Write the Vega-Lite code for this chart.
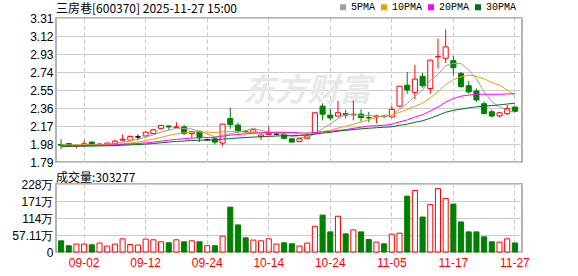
{
  "$schema": "https://vega.github.io/schema/vega-lite/v6.json",
  "padding": {"left": 11, "top": 2, "right": 5, "bottom": 5},
  "bounds": "flush",
  "spacing": 22,
  "config": {
    "view": {"stroke": "#9a9a9a", "strokeWidth": 1.5},
    "axis": {"labelFont": "Liberation Sans", "labelFontSize": 12, "labelColor": "#000000", "ticks": false, "domain": false, "title": null, "gridColor": "#cccccc", "gridWidth": 1},
    "axisY": {"labelOverlap": false, "tickCount": 20},
    "title": {"font": "Noto Sans CJK SC", "fontSize": 12, "fontWeight": "normal", "anchor": "start", "frame": "group", "color": "#000000"}
  },
  "datasets": {
    "k": [
      {"d":"08-28","o":1.975,"h":2.03,"l":1.925,"c":1.965,"v":37.6,"5PMA":1.969,"10PMA":1.970,"20PMA":1.961,"30PMA":1.954},
      {"d":"08-29","o":1.985,"h":1.99,"l":1.95,"c":1.96,"v":21,"5PMA":1.967,"10PMA":1.969,"20PMA":1.961,"30PMA":1.955},
      {"d":"09-01","o":1.96,"h":1.975,"l":1.935,"c":1.965,"v":26.6,"5PMA":1.966,"10PMA":1.968,"20PMA":1.962,"30PMA":1.956},
      {"d":"09-02","o":1.966,"h":2.02,"l":1.948,"c":1.983,"v":26.6,"5PMA":1.969,"10PMA":1.969,"20PMA":1.964,"30PMA":1.957},
      {"d":"09-03","o":2.0,"h":2.01,"l":1.96,"c":1.975,"v":24.3,"5PMA":1.970,"10PMA":1.970,"20PMA":1.965,"30PMA":1.958},
      {"d":"09-04","o":1.975,"h":1.985,"l":1.97,"c":1.98,"v":30,"5PMA":1.973,"10PMA":1.971,"20PMA":1.966,"30PMA":1.960},
      {"d":"09-05","o":1.975,"h":1.995,"l":1.97,"c":1.99,"v":20,"5PMA":1.979,"10PMA":1.973,"20PMA":1.968,"30PMA":1.961},
      {"d":"09-08","o":1.985,"h":2.025,"l":1.98,"c":2.01,"v":26.6,"5PMA":1.988,"10PMA":1.977,"20PMA":1.971,"30PMA":1.964},
      {"d":"09-09","o":2.02,"h":2.08,"l":2.015,"c":2.03,"v":44.3,"5PMA":1.997,"10PMA":1.983,"20PMA":1.975,"30PMA":1.967},
      {"d":"09-10","o":2.02,"h":2.07,"l":2.01,"c":2.06,"v":25.3,"5PMA":2.014,"10PMA":1.992,"20PMA":1.981,"30PMA":1.971},
      {"d":"09-11","o":2.055,"h":2.08,"l":2.02,"c":2.055,"v":23.3,"5PMA":2.029,"10PMA":2.001,"20PMA":1.985,"30PMA":1.974},
      {"d":"09-12","o":2.065,"h":2.11,"l":2.06,"c":2.105,"v":43.3,"5PMA":2.052,"10PMA":2.015,"20PMA":1.992,"30PMA":1.979},
      {"d":"09-15","o":2.09,"h":2.14,"l":2.085,"c":2.13,"v":41,"5PMA":2.076,"10PMA":2.032,"20PMA":2.000,"30PMA":1.985},
      {"d":"09-16","o":2.145,"h":2.18,"l":2.14,"c":2.175,"v":34.3,"5PMA":2.105,"10PMA":2.051,"20PMA":2.010,"30PMA":1.993},
      {"d":"09-17","o":2.17,"h":2.175,"l":2.13,"c":2.16,"v":31,"5PMA":2.125,"10PMA":2.070,"20PMA":2.020,"30PMA":2.000},
      {"d":"09-18","o":2.155,"h":2.21,"l":2.15,"c":2.16,"v":41,"5PMA":2.146,"10PMA":2.088,"20PMA":2.029,"30PMA":2.007},
      {"d":"09-19","o":2.16,"h":2.18,"l":2.075,"c":2.09,"v":34.3,"5PMA":2.143,"10PMA":2.098,"20PMA":2.035,"30PMA":2.011},
      {"d":"09-22","o":2.09,"h":2.12,"l":2.045,"c":2.11,"v":37.6,"5PMA":2.139,"10PMA":2.108,"20PMA":2.042,"30PMA":2.017},
      {"d":"09-23","o":2.115,"h":2.12,"l":2.0,"c":2.045,"v":34.3,"5PMA":2.113,"10PMA":2.109,"20PMA":2.046,"30PMA":2.020},
      {"d":"09-24","o":2.025,"h":2.035,"l":2.015,"c":2.025,"v":21,"5PMA":2.086,"10PMA":2.106,"20PMA":2.049,"30PMA":2.022},
      {"d":"09-25","o":2.035,"h":2.05,"l":1.975,"c":2.0,"v":21,"5PMA":2.054,"10PMA":2.100,"20PMA":2.050,"30PMA":2.023},
      {"d":"09-26","o":1.99,"h":2.195,"l":1.96,"c":2.19,"v":53.3,"5PMA":2.074,"10PMA":2.109,"20PMA":2.062,"30PMA":2.031},
      {"d":"09-29","o":2.25,"h":2.36,"l":2.14,"c":2.185,"v":150.8,"5PMA":2.089,"10PMA":2.114,"20PMA":2.073,"30PMA":2.038},
      {"d":"09-30","o":2.18,"h":2.205,"l":2.09,"c":2.12,"v":91,"5PMA":2.104,"10PMA":2.109,"20PMA":2.080,"30PMA":2.043},
      {"d":"10-09","o":2.115,"h":2.13,"l":2.095,"c":2.11,"v":47.6,"5PMA":2.121,"10PMA":2.104,"20PMA":2.087,"30PMA":2.048},
      {"d":"10-10","o":2.10,"h":2.135,"l":2.095,"c":2.13,"v":40,"5PMA":2.147,"10PMA":2.101,"20PMA":2.094,"30PMA":2.053},
      {"d":"10-13","o":2.06,"h":2.08,"l":2.02,"c":2.075,"v":37.6,"5PMA":2.124,"10PMA":2.099,"20PMA":2.098,"30PMA":2.056},
      {"d":"10-14","o":2.08,"h":2.165,"l":2.075,"c":2.09,"v":44.3,"5PMA":2.105,"10PMA":2.097,"20PMA":2.102,"30PMA":2.060},
      {"d":"10-15","o":2.083,"h":2.10,"l":2.07,"c":2.083,"v":26.6,"5PMA":2.098,"10PMA":2.101,"20PMA":2.105,"30PMA":2.064},
      {"d":"10-16","o":2.085,"h":2.10,"l":2.035,"c":2.04,"v":31,"5PMA":2.084,"10PMA":2.102,"20PMA":2.104,"30PMA":2.067},
      {"d":"10-17","o":2.035,"h":2.04,"l":1.995,"c":2.0,"v":27.6,"5PMA":2.058,"10PMA":2.102,"20PMA":2.101,"30PMA":2.068},
      {"d":"10-20","o":2.005,"h":2.04,"l":2.0,"c":2.035,"v":20,"5PMA":2.050,"10PMA":2.087,"20PMA":2.098,"30PMA":2.070},
      {"d":"10-21","o":2.04,"h":2.10,"l":2.035,"c":2.065,"v":30,"5PMA":2.045,"10PMA":2.075,"20PMA":2.094,"30PMA":2.074},
      {"d":"10-22","o":2.095,"h":2.31,"l":2.09,"c":2.31,"v":86.6,"5PMA":2.090,"10PMA":2.094,"20PMA":2.101,"30PMA":2.084},
      {"d":"10-23","o":2.38,"h":2.41,"l":2.23,"c":2.295,"v":124,"5PMA":2.141,"10PMA":2.112,"20PMA":2.108,"30PMA":2.095},
      {"d":"10-24","o":2.285,"h":2.355,"l":2.23,"c":2.255,"v":67.6,"5PMA":2.192,"10PMA":2.125,"20PMA":2.113,"30PMA":2.104},
      {"d":"10-27","o":2.275,"h":2.435,"l":2.27,"c":2.31,"v":120,"5PMA":2.247,"10PMA":2.148,"20PMA":2.124,"30PMA":2.115},
      {"d":"10-28","o":2.30,"h":2.34,"l":2.25,"c":2.285,"v":61,"5PMA":2.291,"10PMA":2.168,"20PMA":2.132,"30PMA":2.124},
      {"d":"10-29","o":2.29,"h":2.44,"l":2.23,"c":2.295,"v":74.3,"5PMA":2.288,"10PMA":2.189,"20PMA":2.145,"30PMA":2.133},
      {"d":"10-30","o":2.295,"h":2.345,"l":2.215,"c":2.26,"v":67.6,"5PMA":2.281,"10PMA":2.211,"20PMA":2.157,"30PMA":2.140},
      {"d":"10-31","o":2.26,"h":2.32,"l":2.21,"c":2.255,"v":42,"5PMA":2.281,"10PMA":2.237,"20PMA":2.169,"30PMA":2.146},
      {"d":"11-03","o":2.265,"h":2.29,"l":2.20,"c":2.275,"v":33.3,"5PMA":2.274,"10PMA":2.261,"20PMA":2.174,"30PMA":2.152},
      {"d":"11-04","o":2.275,"h":2.29,"l":2.25,"c":2.27,"v":27.6,"5PMA":2.271,"10PMA":2.281,"20PMA":2.178,"30PMA":2.157},
      {"d":"11-05","o":2.265,"h":2.38,"l":2.26,"c":2.345,"v":60,"5PMA":2.281,"10PMA":2.285,"20PMA":2.189,"30PMA":2.162},
      {"d":"11-06","o":2.38,"h":2.59,"l":2.37,"c":2.59,"v":63.3,"5PMA":2.347,"10PMA":2.314,"20PMA":2.213,"30PMA":2.177},
      {"d":"11-07","o":2.60,"h":2.74,"l":2.51,"c":2.55,"v":187.5,"5PMA":2.406,"10PMA":2.344,"20PMA":2.234,"30PMA":2.190},
      {"d":"11-10","o":2.525,"h":2.815,"l":2.455,"c":2.665,"v":206.5,"5PMA":2.484,"10PMA":2.379,"20PMA":2.264,"30PMA":2.209},
      {"d":"11-11","o":2.695,"h":2.73,"l":2.575,"c":2.595,"v":117.5,"5PMA":2.549,"10PMA":2.410,"20PMA":2.289,"30PMA":2.225},
      {"d":"11-12","o":2.565,"h":2.87,"l":2.51,"c":2.865,"v":160,"5PMA":2.653,"10PMA":2.467,"20PMA":2.328,"30PMA":2.252},
      {"d":"11-13","o":2.90,"h":3.094,"l":2.777,"c":2.905,"v":213,"5PMA":2.716,"10PMA":2.532,"20PMA":2.371,"30PMA":2.282},
      {"d":"11-14","o":2.885,"h":3.19,"l":2.835,"c":3.005,"v":180,"5PMA":2.807,"10PMA":2.607,"20PMA":2.422,"30PMA":2.315},
      {"d":"11-17","o":2.86,"h":2.91,"l":2.705,"c":2.785,"v":161,"5PMA":2.831,"10PMA":2.658,"20PMA":2.459,"30PMA":2.335},
      {"d":"11-18","o":2.725,"h":2.74,"l":2.575,"c":2.585,"v":101,"5PMA":2.829,"10PMA":2.689,"20PMA":2.485,"30PMA":2.348},
      {"d":"11-19","o":2.595,"h":2.645,"l":2.51,"c":2.53,"v":67.6,"5PMA":2.762,"10PMA":2.708,"20PMA":2.496,"30PMA":2.362},
      {"d":"11-20","o":2.54,"h":2.565,"l":2.425,"c":2.445,"v":67.6,"5PMA":2.670,"10PMA":2.693,"20PMA":2.504,"30PMA":2.373},
      {"d":"11-21","o":2.405,"h":2.43,"l":2.295,"c":2.30,"v":51,"5PMA":2.529,"10PMA":2.668,"20PMA":2.506,"30PMA":2.379},
      {"d":"11-24","o":2.32,"h":2.34,"l":2.26,"c":2.275,"v":34.3,"5PMA":2.427,"10PMA":2.629,"20PMA":2.504,"30PMA":2.385},
      {"d":"11-25","o":2.277,"h":2.32,"l":2.26,"c":2.31,"v":33.3,"5PMA":2.372,"10PMA":2.601,"20PMA":2.505,"30PMA":2.393},
      {"d":"11-26","o":2.30,"h":2.39,"l":2.285,"c":2.355,"v":44.3,"5PMA":2.337,"10PMA":2.550,"20PMA":2.508,"30PMA":2.402},
      {"d":"11-27","o":2.37,"h":2.375,"l":2.32,"c":2.325,"v":30.33,"5PMA":2.313,"10PMA":2.492,"20PMA":2.512,"30PMA":2.411}
    ]
  },
  "vconcat": [
    {
      "width": 466,
      "height": 144,
      "title": {"text": "三房巷[600370] 2025-11-27 15:00", "offset": -4},
      "data": {"name": "k"},
      "encoding": {
        "x": {
          "field": "d", "type": "ordinal",
          "scale": {"paddingInner": 0, "paddingOuter": 0.29, "align": 0.27},
          "axis": {"values": ["09-02","09-12","09-24","10-14","10-24","11-05","11-17","11-27"], "labels": false, "grid": true, "gridDash": [4,3], "gridColor": "#c8c8c8", "bandPosition": 0.5}
        }
      },
      "layer": [
        {
          "data": {"values": [{}]},
          "mark": {"type": "text", "text": "东方财富", "font": "Noto Sans CJK SC", "fontSize": 32, "fontWeight": "bold", "fontStyle": "italic", "color": "#e8e8e8", "dy": 1},
          "encoding": {"x": {"datum": "10-21"}, "y": {"datum": 2.55}}
        },
        {
          "mark": {"type": "rule", "strokeWidth": 1},
          "encoding": {
            "y": {
              "field": "l", "type": "quantitative",
              "scale": {"domain": [1.79, 3.31], "nice": false, "zero": false},
              "axis": {"values": [1.79,1.98,2.17,2.36,2.55,2.74,2.93,3.12,3.31], "tickCount": 20, "format": ".2f", "labelPadding": 3, "labelOverlap": false, "grid": true}
            },
            "y2": {"field": "h"},
            "stroke": {"condition": [{"test": "datum.c > datum.o", "value": "#ff0000"}, {"test": "datum.c == datum.o", "value": "#000000"}], "value": "#008000"}
          }
        },
        {
          "mark": {"type": "bar", "width": {"band": 0.66}, "strokeWidth": 1},
          "encoding": {
            "y": {"field": "o", "type": "quantitative"},
            "y2": {"field": "c"},
            "fill": {"condition": {"test": "datum.c >= datum.o", "value": "#ffffff"}, "value": "#008000"},
            "stroke": {"condition": [{"test": "datum.c > datum.o", "value": "#ff0000"}, {"test": "datum.c == datum.o", "value": "#000000"}], "value": "#008000"}
          }
        },
        {
          "transform": [{"fold": ["5PMA", "10PMA", "20PMA", "30PMA"], "as": ["key", "val"]}],
          "mark": {"type": "line", "strokeWidth": 1},
          "encoding": {
            "y": {"field": "val", "type": "quantitative"},
            "color": {
              "field": "key", "type": "nominal",
              "scale": {"domain": ["5PMA", "10PMA", "20PMA", "30PMA"], "range": ["#a0a0a0", "#f0a000", "#ff00ff", "#006e28"]},
              "legend": {"orient": "none", "legendX": 282, "legendY": -16, "direction": "horizontal", "title": null, "symbolType": "square", "symbolSize": 9, "symbolStrokeWidth": 3, "labelFont": "Liberation Mono", "labelFontSize": 10, "labelColor": "#000000", "columnPadding": 0, "labelOffset": 3, "padding": 0}
            }
          }
        }
      ]
    },
    {
      "width": 466,
      "height": 68,
      "title": {"text": "成交量:303277", "offset": -7},
      "data": {"name": "k"},
      "mark": {"type": "bar", "width": {"band": 0.66}, "strokeWidth": 1},
      "encoding": {
        "x": {
          "field": "d", "type": "ordinal",
          "scale": {"paddingInner": 0, "paddingOuter": 0.29, "align": 0.27},
          "axis": {"values": ["09-02","09-12","09-24","10-14","10-24","11-05","11-17","11-27"], "labelAngle": 0, "labelColor": "#ff0000", "labelPadding": 5, "labelOverlap": false, "grid": true, "gridDash": [4,3], "gridColor": "#c8c8c8", "bandPosition": 0.5}
        },
        "y": {
          "field": "v", "type": "quantitative",
          "scale": {"domain": [0, 228.44], "nice": false},
          "axis": {"values": [0, 57.11, 114.22, 171.33, 228.44], "tickCount": 20, "labelExpr": "datum.value == 0 ? '0' : (datum.value < 100 ? format(datum.value, '.2f') : format(datum.value, '.0f')) + '万'", "labelPadding": 3, "labelOverlap": false, "grid": true}
        },
        "fill": {"condition": {"test": "datum.c >= datum.o", "value": "#ffffff"}, "value": "#008000"},
        "stroke": {"condition": {"test": "datum.c >= datum.o", "value": "#ff0000"}, "value": "#008000"}
      }
    }
  ]
}
